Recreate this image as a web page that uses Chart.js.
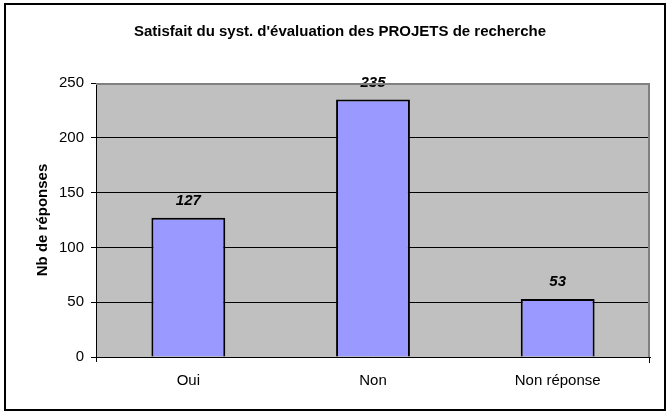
<!DOCTYPE html>
<html>
<head>
<meta charset="utf-8">
<script src="https://cdn.jsdelivr.net/npm/chart.js@4/dist/chart.umd.min.js"></script>
<style>
  html, body { margin: 0; padding: 0; background: #fff; }
  #wrap { width: 669px; height: 414px; position: relative; }
</style>
</head>
<body>
<div id="wrap"><canvas id="chart"></canvas></div>
<script>
"use strict";

const CATEGORIES = ["Oui", "Non", "Non réponse"];
const VALUES = [127, 235, 53];
const Y_TICKS = [0, 50, 100, 150, 200, 250];
const TITLE = "Satisfait du syst. d'évaluation des PROJETS de recherche";
const Y_TITLE = "Nb de réponses";

const FONT = "Arial, 'Liberation Sans', sans-serif";

const COLORS = {
  plot: "#c0c0c0",
  bar: "#9999ff",
  edge: "#000000",
  frame: "#808080",
};

// grey plot background, grey top/right border, outer black frame
const plotDecor = {
  id: "plotDecor",
  beforeDraw(chart) {
    const { ctx, chartArea: a } = chart;
    ctx.save();
    ctx.fillStyle = COLORS.plot;
    ctx.fillRect(a.left, a.top, a.right - a.left, a.bottom - a.top);
    ctx.restore();
  },
  afterDraw(chart) {
    const { ctx, chartArea: a } = chart;
    ctx.save();
    ctx.strokeStyle = COLORS.frame;
    ctx.lineWidth = 2;
    ctx.beginPath();
    ctx.moveTo(a.left, a.top + 1);
    ctx.lineTo(a.right - 1, a.top + 1);
    ctx.lineTo(a.right - 1, a.bottom);
    ctx.stroke();
    // small end ticks under the category axis
    ctx.strokeStyle = "#000";
    ctx.lineWidth = 1;
    ctx.beginPath();
    ctx.moveTo(a.right - 0.5, a.bottom);
    ctx.lineTo(a.right - 0.5, a.bottom + 6);
    ctx.moveTo(a.left + 0.5, a.bottom);
    ctx.lineTo(a.left + 0.5, a.bottom + 5);
    ctx.stroke();
    ctx.lineWidth = 2;
    ctx.strokeRect(5, 4, 660, 406);
    ctx.restore();
  },
};

const valueLabels = {
  id: "valueLabels",
  afterDatasetsDraw(chart) {
    const { ctx } = chart;
    const meta = chart.getDatasetMeta(0);
    ctx.save();
    ctx.font = `italic bold 15px ${FONT}`;
    ctx.fillStyle = "#000";
    ctx.textAlign = "center";
    ctx.textBaseline = "middle";
    meta.data.forEach((bar, i) => {
      ctx.fillText(String(VALUES[i]), bar.x, bar.y - 17);
    });
    ctx.restore();
  },
};

new Chart(document.getElementById("chart"), {
  type: "bar",
  data: {
    labels: CATEGORIES,
    datasets: [{
      data: VALUES,
      backgroundColor: COLORS.bar,
      borderColor: COLORS.edge,
      borderWidth: 2,
      barPercentage: 0.4,
      categoryPercentage: 1,
    }],
  },
  options: {
    responsive: true,
    maintainAspectRatio: false,
    animation: false,
    layout: { padding: { left: 30, right: 19, top: 0, bottom: 0 } },
    plugins: {
      legend: { display: false },
      tooltip: { enabled: false },
      title: {
        display: true,
        text: TITLE,
        color: "#000",
        font: { family: FONT, size: 15, weight: "bold" },
        padding: { top: 23, bottom: 42 },
      },
    },
    scales: {
      x: {
        grid: { display: false, drawTicks: false },
        border: { color: "#000", width: 1 },
        ticks: { color: "#000", font: { family: FONT, size: 15 }, padding: 15 },
        afterFit(s) { s.height = 57; },
      },
      y: {
        min: 0,
        max: 250,
        afterBuildTicks(s) { s.ticks = Y_TICKS.map(v => ({ value: v })); },
        grid: {
          color: c => (c.tick && c.tick.value === 250 ? "rgba(0,0,0,0)" : "#000"),
          tickColor: "#000",
          tickLength: 5,
          lineWidth: 1,
        },
        border: { color: "#000", width: 1 },
        ticks: { color: "#000", font: { family: FONT, size: 15 }, padding: 7 },
        title: {
          display: true,
          text: Y_TITLE,
          color: "#000",
          font: { family: FONT, size: 15, weight: "bold" },
          padding: { top: 4, bottom: 0 },
        },
        afterFit(s) { s.width = 66; },
      },
    },
  },
  plugins: [plotDecor, valueLabels],
});
</script>
</body>
</html>
